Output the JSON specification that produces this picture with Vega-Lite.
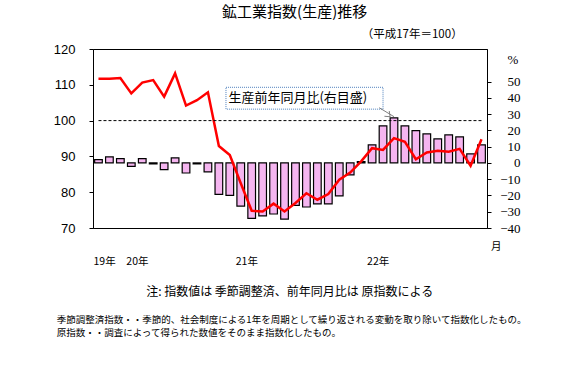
{
  "$schema": "https://vega.github.io/schema/vega-lite/v6.json",
  "width": 394,
  "height": 179,
  "autosize": {"type": "none"},
  "padding": {"left": 93, "top": 49, "right": 89, "bottom": 149},
  "background": "white",
  "config": {
    "view": {"stroke": "black", "strokeWidth": 1},
    "axis": {"domainColor": "black", "tickColor": "black", "labelColor": "black", "grid": false}
  },
  "data": {"values": [
    {"m": "2019-12", "idx": 111.7, "yoy": 2.0},
    {"m": "2020-01", "idx": 111.7, "yoy": 3.7},
    {"m": "2020-02", "idx": 111.9, "yoy": 2.6},
    {"m": "2020-03", "idx": 107.6, "yoy": -2.1},
    {"m": "2020-04", "idx": 110.6, "yoy": 2.6},
    {"m": "2020-05", "idx": 111.3, "yoy": -0.6},
    {"m": "2020-06", "idx": 106.7, "yoy": -4.1},
    {"m": "2020-07", "idx": 113.2, "yoy": 3.1},
    {"m": "2020-08", "idx": 104.2, "yoy": -6.2},
    {"m": "2020-09", "idx": 105.7, "yoy": -0.6},
    {"m": "2020-10", "idx": 107.9, "yoy": -5.5},
    {"m": "2020-11", "idx": 92.9, "yoy": -19.3},
    {"m": "2020-12", "idx": 90.4, "yoy": -19.9},
    {"m": "2021-01", "idx": 82.5, "yoy": -26.5},
    {"m": "2021-02", "idx": 74.8, "yoy": -34.1},
    {"m": "2021-03", "idx": 74.6, "yoy": -32.6},
    {"m": "2021-04", "idx": 76.8, "yoy": -31.4},
    {"m": "2021-05", "idx": 74.6, "yoy": -34.5},
    {"m": "2021-06", "idx": 77.0, "yoy": -26.1},
    {"m": "2021-07", "idx": 79.7, "yoy": -27.1},
    {"m": "2021-08", "idx": 77.9, "yoy": -25.2},
    {"m": "2021-09", "idx": 79.5, "yoy": -25.2},
    {"m": "2021-10", "idx": 83.5, "yoy": -20.3},
    {"m": "2021-11", "idx": 85.5, "yoy": -7.4},
    {"m": "2021-12", "idx": 88.6, "yoy": 0.8},
    {"m": "2022-01", "idx": 92.3, "yoy": 11.1},
    {"m": "2022-02", "idx": 91.8, "yoy": 22.8},
    {"m": "2022-03", "idx": 95.1, "yoy": 27.7},
    {"m": "2022-04", "idx": 94.1, "yoy": 22.8},
    {"m": "2022-05", "idx": 89.2, "yoy": 19.9},
    {"m": "2022-06", "idx": 91.1, "yoy": 17.8},
    {"m": "2022-07", "idx": 91.6, "yoy": 14.8},
    {"m": "2022-08", "idx": 91.3, "yoy": 17.2},
    {"m": "2022-09", "idx": 92.1, "yoy": 16.0},
    {"m": "2022-10", "idx": 87.4, "yoy": 5.5},
    {"m": "2022-11", "idx": 94.8, "yoy": 11.1}
  ]},
  "resolve": {"scale": {"y": "independent"}},
  "layer": [
    {
      "mark": {"type": "bar", "fill": "#f5b5f0", "stroke": "black", "strokeWidth": 1.2},
      "encoding": {
        "x": {
          "field": "m", "type": "ordinal", "sort": null,
          "scale": {"paddingInner": 0.3, "paddingOuter": 0.15},
          "axis": {
            "title": null, "tickBand": "extent", "tickSize": 4, "labelAngle": 0,
            "labelFont": "Noto Sans CJK JP", "labelFontSize": 10, "labelPadding": 8, "labelOverlap": false,
            "labelExpr": "'' + toNumber(slice(datum.value, 5))"
          }
        },
        "y": {
          "field": "yoy", "type": "quantitative",
          "scale": {"domain": [-40, 70]},
          "axis": {
            "orient": "right", "title": null, "values": [-40,-30,-20,-10,0,10,20,30,40,50],
            "tickSize": 4, "labelAlign": "right", "labelPadding": 29, "labelOverlap": false,
            "labelFont": "Liberation Serif", "labelFontSize": 13
          }
        },
        "y2": {"datum": 0}
      }
    },
    {
      "mark": {"type": "line", "color": "#ff0000", "strokeWidth": 2.5},
      "encoding": {
        "x": {"field": "m", "type": "ordinal", "sort": null, "axis": null},
        "y": {
          "field": "idx", "type": "quantitative",
          "scale": {"domain": [70, 120]},
          "axis": {"orient": "left", "title": null, "values": [70,80,90,100,110,120], "tickSize": 4, "labelPadding": 14, "labelOverlap": false, "labelFont": "Liberation Sans", "labelFontSize": 13}
        }
      }
    },
    {
      "data": {"values": [{"m": "2019-12", "m2": "2022-11"}]},
      "mark": {"type": "rule", "strokeDash": [3, 2], "color": "black", "strokeWidth": 1},
      "encoding": {
        "x": {"field": "m", "type": "ordinal", "axis": null},
        "x2": {"field": "m2"},
        "y": {"datum": 100, "type": "quantitative", "scale": {"domain": [70, 120]}, "axis": null}
      }
    },
    {
      "data": {"values": [{"m": "2020-12", "m2": "2022-02"}]},
      "mark": {"type": "rect", "fill": "white", "stroke": "#4f81bd", "strokeDash": [1, 1], "strokeWidth": 1},
      "encoding": {
        "x": {"field": "m", "type": "ordinal", "bandPosition": 0, "axis": null},
        "x2": {"field": "m2"},
        "y": {"datum": 109.3, "type": "quantitative", "scale": {"domain": [70, 120]}, "axis": null},
        "y2": {"datum": 103.2}
      }
    },
    {
      "data": {"values": [{"t": "生産前年同月比(右目盛)", "m": "2021-06"}]},
      "mark": {"type": "text", "font": "Noto Sans CJK JP", "fontSize": 13, "color": "black", "baseline": "middle", "align": "center"},
      "encoding": {
        "x": {"field": "m", "type": "ordinal", "bandPosition": 0.8, "axis": null},
        "y": {"datum": 106.2, "type": "quantitative", "scale": {"domain": [70, 120]}, "axis": null},
        "text": {"field": "t"}
      }
    },
    {
      "data": {"values": [{"m": "2022-02", "m2": "2022-03"}]},
      "mark": {"type": "rule", "color": "#7f7f7f", "strokeWidth": 1},
      "encoding": {
        "x": {"field": "m", "type": "ordinal", "bandPosition": 0, "axis": null},
        "x2": {"field": "m2"},
        "y": {"datum": 103.6, "type": "quantitative", "scale": {"domain": [70, 120]}, "axis": null},
        "y2": {"datum": 101.1}
      }
    },
    {
      "data": {"values": [{"m": "2022-03"}]},
      "mark": {"type": "point", "shape": "M-1,-0.8L0,0L-1,0.8", "angle": 42, "filled": false, "stroke": "#7f7f7f", "strokeWidth": 1, "size": 80, "opacity": 1},
      "encoding": {
        "x": {"field": "m", "type": "ordinal", "bandPosition": 0, "axis": null},
        "y": {"datum": 101.1, "type": "quantitative", "scale": {"domain": [70, 120]}, "axis": null}
      }
    },
    {
      "data": {"values": [{"t": "鉱工業指数(生産)推移", "m": "2021-06"}]},
      "mark": {"type": "text", "font": "Noto Sans CJK JP", "fontSize": 15, "color": "black", "baseline": "middle", "align": "center", "dx": 3},
      "encoding": {
        "x": {"field": "m", "type": "ordinal", "bandPosition": 0, "axis": null},
        "y": {"datum": 130.2, "type": "quantitative", "scale": {"domain": [70, 120]}, "axis": null},
        "text": {"field": "t"}
      }
    },
    {
      "data": {"values": [{"t": "（平成17年＝100）", "m": "2022-09"}]},
      "mark": {"type": "text", "font": "Noto Sans CJK JP", "fontSize": 11.5, "color": "black", "baseline": "middle", "align": "right", "dx": 3},
      "encoding": {
        "x": {"field": "m", "type": "ordinal", "axis": null},
        "y": {"datum": 124.0, "type": "quantitative", "scale": {"domain": [70, 120]}, "axis": null},
        "text": {"field": "t"}
      }
    },
    {
      "data": {"values": [{"t": "%", "m": "2022-11"}]},
      "mark": {"type": "text", "font": "Liberation Serif", "fontSize": 13, "color": "black", "baseline": "middle", "align": "right", "dx": 33},
      "encoding": {
        "x": {"field": "m", "type": "ordinal", "bandPosition": 1, "axis": null},
        "y": {"datum": 116.9, "type": "quantitative", "scale": {"domain": [70, 120]}, "axis": null},
        "text": {"field": "t"}
      }
    },
    {
      "data": {"values": [{"t": "月", "m": "2022-11"}]},
      "mark": {"type": "text", "font": "Noto Sans CJK JP", "fontSize": 10.5, "color": "black", "baseline": "middle", "align": "center", "dx": 11},
      "encoding": {
        "x": {"field": "m", "type": "ordinal", "bandPosition": 1, "axis": null},
        "y": {"datum": 64.8, "type": "quantitative", "scale": {"domain": [70, 120]}, "axis": null},
        "text": {"field": "t"}
      }
    },
    {
      "data": {"values": [
        {"t": "19年", "m": "2019-12"},
        {"t": "20年", "m": "2020-03"},
        {"t": "21年", "m": "2021-01"},
        {"t": "22年", "m": "2022-01"}
      ]},
      "mark": {"type": "text", "font": "Noto Sans CJK JP", "fontSize": 10.5, "color": "black", "baseline": "middle", "align": "left", "dx": -5},
      "encoding": {
        "x": {"field": "m", "type": "ordinal", "axis": null},
        "y": {"datum": 60.6, "type": "quantitative", "scale": {"domain": [70, 120]}, "axis": null},
        "text": {"field": "t"}
      }
    },
    {
      "data": {"values": [{"t": "注: 指数値は 季節調整済、前年同月比は 原指数による", "m": "2021-06"}]},
      "mark": {"type": "text", "font": "Noto Sans CJK JP", "fontSize": 12, "color": "black", "baseline": "middle", "align": "center", "dx": -2},
      "encoding": {
        "x": {"field": "m", "type": "ordinal", "bandPosition": 0, "axis": null},
        "y": {"datum": 52.0, "type": "quantitative", "scale": {"domain": [70, 120]}, "axis": null},
        "text": {"field": "t"}
      }
    },
    {
      "data": {"values": [{"t": "季節調整済指数・・季節的、社会制度による1年を周期として繰り返される変動を取り除いて指数化したもの。", "m": "2019-12"}]},
      "mark": {"type": "text", "font": "Noto Sans CJK JP", "fontSize": 9.5, "color": "black", "baseline": "middle", "align": "left", "dx": -38},
      "encoding": {
        "x": {"field": "m", "type": "ordinal", "bandPosition": 0, "axis": null},
        "y": {"datum": 44.2, "type": "quantitative", "scale": {"domain": [70, 120]}, "axis": null},
        "text": {"field": "t"}
      }
    },
    {
      "data": {"values": [{"t": "原指数・・調査によって得られた数値をそのまま指数化したもの。", "m": "2019-12"}]},
      "mark": {"type": "text", "font": "Noto Sans CJK JP", "fontSize": 9.5, "color": "black", "baseline": "middle", "align": "left", "dx": -38},
      "encoding": {
        "x": {"field": "m", "type": "ordinal", "bandPosition": 0, "axis": null},
        "y": {"datum": 40.6, "type": "quantitative", "scale": {"domain": [70, 120]}, "axis": null},
        "text": {"field": "t"}
      }
    }
  ]
}
